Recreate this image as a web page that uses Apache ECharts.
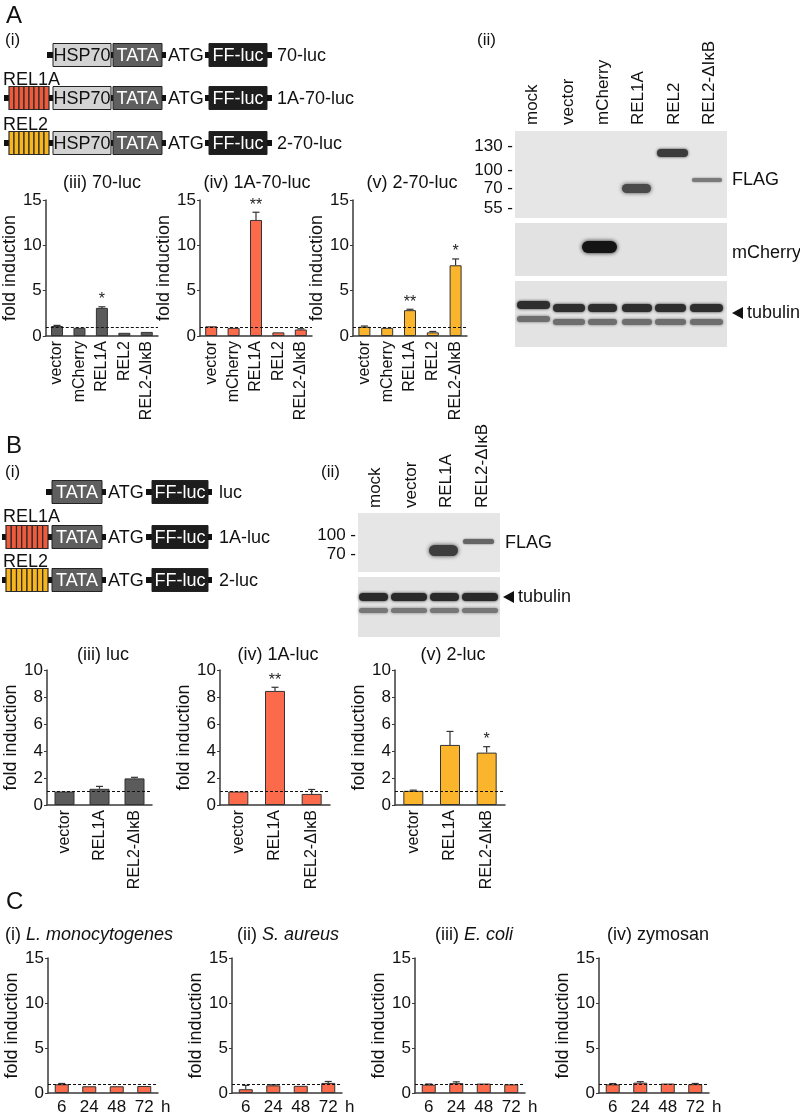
<!DOCTYPE html>
<html><head><meta charset="utf-8">
<script src="https://cdn.jsdelivr.net/npm/echarts@6/dist/echarts.min.js"></script>
<style>html,body{margin:0;padding:0;background:#fff}#c{width:800px;height:1117px}</style>
</head><body><div id="c"></div>
<script>
const FONT = '"Liberation Sans", Arial, Helvetica, sans-serif';

// ---------- DATA ----------
// Panel A (iii)-(v)
const aCategories = ['vector', 'mCherry', 'REL1A', 'REL2', 'REL2-ΔIκB'];
const a3Values = [1.1, 0.9, 3.1, 0.35, 0.45];
const a3ErrTop = [1.17, 0.95, 3.22, 0.4, 0.5];
const a3Sig = ['', '', '*', '', ''];
const a4Values = [1.07, 0.9, 12.8, 0.4, 0.72];
const a4ErrTop = [1.13, 0.95, 13.65, 0.45, 0.8];
const a4Sig = ['', '', '**', '', ''];
const a5Values = [1.02, 0.9, 2.85, 0.4, 7.8];
const a5ErrTop = [1.1, 0.95, 2.95, 0.5, 8.5];
const a5Sig = ['', '', '**', '', '*'];
const aTicks = [0, 5, 10, 15];

// Panel B (iii)-(v)
const bCategories = ['vector', 'REL1A', 'REL2-ΔIκB'];
const b3Values = [1.0, 1.2, 1.97];
const b3ErrTop = [1.02, 1.38, 2.05];
const b3Sig = ['', '', ''];
const b4Values = [1.0, 8.45, 0.82];
const b4ErrTop = [1.02, 8.72, 1.15];
const b4Sig = ['', '**', ''];
const b5Values = [1.05, 4.45, 3.88];
const b5ErrTop = [1.1, 5.45, 4.32];
const b5Sig = ['', '', '*'];
const bTicks = [0, 2, 4, 6, 8, 10];

// Panel C (i)-(iv)
const cCategories = ['6', '24', '48', '72'];
const c1Values = [0.97, 0.75, 0.75, 0.78];
const c1ErrTop = [1.06, 0.8, 0.8, 0.84];
const c2Values = [0.42, 0.85, 0.8, 1.12];
const c2ErrTop = [0.85, 0.92, 0.86, 1.28];
const c3Values = [0.93, 1.1, 1.05, 0.96];
const c3ErrTop = [1.0, 1.24, 1.1, 1.02];
const c4Values = [0.96, 1.15, 1.05, 0.98];
const c4ErrTop = [1.05, 1.26, 1.1, 1.06];
const cSig = ['', '', '', ''];

// Blot lane labels / markers
const blotALanes = ['mock', 'vector', 'mCherry', 'REL1A', 'REL2', 'REL2-ΔIκB'];
const blotAMarkers = ['130', '100', '70', '55'];
const blotBLanes = ['mock', 'vector', 'REL1A', 'REL2-ΔIκB'];
const blotBMarkers = ['100', '70'];

// ---------- STYLE ----------
const GRAY = '#5b5b5b', RED = '#fb6a4a', YEL = '#fbb52c';
const DIAG_RED = '#ee5a3c', DIAG_YEL = '#f7b51e';

const charts = [
  // A
  {left: 43, top: 200, width: 115, height: 136, cats: aCategories, vals: a3Values, err: a3ErrTop, sig: a3Sig, color: GRAY, max: 15, interval: 5, barWidth: 12, rot: 90, nameGap: 12, title: '(iii) 70-luc', tx: 102, ty: 183},
  {left: 200, top: 200, width: 112, height: 136, cats: aCategories, vals: a4Values, err: a4ErrTop, sig: a4Sig, color: RED, max: 15, interval: 5, barWidth: 12, rot: 90, nameGap: 12, title: '(iv) 1A-70-luc', tx: 257, ty: 183},
  {left: 353, top: 200, width: 114, height: 136, cats: aCategories, vals: a5Values, err: a5ErrTop, sig: a5Sig, color: YEL, max: 15, interval: 5, barWidth: 12, rot: 90, nameGap: 12, title: '(v) 2-70-luc', tx: 412, ty: 183},
  // B
  {left: 47, top: 670, width: 105, height: 135, cats: bCategories, vals: b3Values, err: b3ErrTop, sig: b3Sig, color: GRAY, max: 10, interval: 2, barWidth: 20, rot: 90, nameGap: 20, title: '(iii) luc', tx: 103, ty: 655},
  {left: 220, top: 670, width: 110, height: 135, cats: bCategories, vals: b4Values, err: b4ErrTop, sig: b4Sig, color: RED, max: 10, interval: 2, barWidth: 20, rot: 90, nameGap: 20, title: '(iv) 1A-luc', tx: 278, ty: 655},
  {left: 395, top: 670, width: 110, height: 135, cats: bCategories, vals: b5Values, err: b5ErrTop, sig: b5Sig, color: YEL, max: 10, interval: 2, barWidth: 20, rot: 90, nameGap: 20, title: '(v) 2-luc', tx: 453, ty: 655},
  // C
  {left: 48, top: 958, width: 110, height: 135, cats: cCategories, vals: c1Values, err: c1ErrTop, sig: cSig, color: RED, max: 15, interval: 5, barWidth: 14, rot: 0, nameGap: 22, unit: 'h', rich: ['(i) ', 'L. monocytogenes'], tx: 89, ty: 935},
  {left: 232, top: 958, width: 110, height: 135, cats: cCategories, vals: c2Values, err: c2ErrTop, sig: cSig, color: RED, max: 15, interval: 5, barWidth: 14, rot: 0, nameGap: 22, unit: 'h', rich: ['(ii) ', 'S. aureus'], tx: 288, ty: 935},
  {left: 415, top: 958, width: 110, height: 135, cats: cCategories, vals: c3Values, err: c3ErrTop, sig: cSig, color: RED, max: 15, interval: 5, barWidth: 14, rot: 0, nameGap: 22, unit: 'h', rich: ['(iii) ', 'E. coli'], tx: 474, ty: 935},
  {left: 599, top: 958, width: 110, height: 135, cats: cCategories, vals: c4Values, err: c4ErrTop, sig: cSig, color: RED, max: 15, interval: 5, barWidth: 14, rot: 0, nameGap: 22, unit: 'h', rich: ['(iv) zymosan', ''], tx: 658, ty: 935}
];

const grid = [], xAxis = [], yAxis = [], series = [], graphic = [];

charts.forEach((c, i) => {
  grid.push({left: c.left, top: c.top, width: c.width, height: c.height, containLabel: false});
  xAxis.push({
    type: 'category', gridIndex: i, data: c.cats,
    axisLine: {lineStyle: {color: '#3a3a3a', width: 1.5}},
    axisTick: {show: false},
    axisLabel: {interval: 0, rotate: c.rot, fontSize: c.rot ? 16 : 17, fontFamily: FONT, color: '#111', margin: c.rot ? 5 : 6},
    name: c.unit || '', nameLocation: 'end', nameGap: 3,
    nameTextStyle: {fontSize: 17, fontFamily: FONT, color: '#111', verticalAlign: 'top', padding: [6, 0, 0, 0]}
  });
  yAxis.push({
    type: 'value', gridIndex: i, min: 0, max: c.max, interval: c.interval,
    splitLine: {show: false},
    axisLine: {show: true, lineStyle: {color: '#3a3a3a', width: 1.5}},
    axisTick: {show: true, length: 3, lineStyle: {color: '#3a3a3a', width: 1}},
    axisLabel: {fontSize: 17, fontFamily: FONT, color: '#111', margin: 4},
    name: 'fold induction', nameLocation: 'middle', nameGap: c.nameGap,
    nameTextStyle: {fontSize: 18, fontFamily: FONT, color: '#111'}
  });
  series.push({
    type: 'bar', xAxisIndex: i, yAxisIndex: i, data: c.vals, barWidth: c.barWidth,
    itemStyle: {color: c.color, borderColor: '#333', borderWidth: 1},
    silent: true,
    markLine: {
      silent: true, symbol: 'none', label: {show: false},
      lineStyle: {type: [3, 2], color: '#111', width: 1},
      data: [{yAxis: 1}]
    },
    z: 2
  });
  const sig = c.sig;
  series.push({
    type: 'custom', xAxisIndex: i, yAxisIndex: i,
    data: c.vals.map((v, k) => [k, v, c.err[k]]),
    encode: {x: 0, y: 2},
    silent: true, z: 4,
    renderItem: function (params, api) {
      const k = api.value(0);
      const base = api.coord([k, api.value(1)]);
      const top = api.coord([k, api.value(2)]);
      const ch = [];
      if (base[1] - top[1] > 0.6) {
        ch.push({type: 'line', shape: {x1: base[0], y1: base[1], x2: top[0], y2: top[1]}, style: {stroke: '#333', lineWidth: 1.2}});
        ch.push({type: 'line', shape: {x1: top[0] - 3.5, y1: top[1], x2: top[0] + 3.5, y2: top[1]}, style: {stroke: '#333', lineWidth: 1.2}});
      }
      const s = sig[params.dataIndex];
      if (s) {
        ch.push({type: 'text', x: top[0], y: top[1] - 15, style: {text: s, font: '16px ' + FONT, fill: '#222', align: 'center', verticalAlign: 'top', textAlign: 'center', textVerticalAlign: 'top'}});
      }
      return {type: 'group', children: ch};
    }
  });
  // titles
  if (c.title) {
    graphic.push(txt(c.tx, c.ty, c.title, {align: 'center', size: 18}));
  } else {
    const t = c.rich[1] ? '{n|' + c.rich[0] + '}{i|' + c.rich[1] + '}' : '{n|' + c.rich[0] + '}';
    graphic.push({type: 'text', x: c.tx, y: c.ty, z: 10, style: {
      text: t, align: 'center', verticalAlign: 'middle', textAlign: 'center', textVerticalAlign: 'middle',
      rich: {n: {fontSize: 18, fontFamily: FONT, fill: '#111', color: '#111'}, i: {fontSize: 18, fontFamily: FONT, fontStyle: 'italic', fill: '#111', color: '#111'}}
    }});
  }
});

// ---------- GRAPHIC HELPERS ----------
function txt(x, y, text, o) {
  o = o || {};
  const al = o.align || 'left', va = o.valign || 'middle';
  return {type: 'text', x: x, y: y, rotation: o.rot || 0, z: 10, style: {
    text: text, font: (o.bold ? 'bold ' : '') + (o.size || 18) + 'px ' + FONT, fill: o.color || '#111',
    align: al, verticalAlign: va, textAlign: al, textVerticalAlign: va}};
}
function rect(x, y, w, h, fill, stroke, lw, extra) {
  const st = {fill: fill};
  if (stroke) { st.stroke = stroke; st.lineWidth = lw || 1; }
  if (extra) Object.assign(st, extra);
  return {type: 'rect', shape: {x: x, y: y, width: w, height: h}, style: st, z: 5};
}
function band(x, y, w, h, color, blur) {
  return {type: 'rect', shape: {x: x, y: y, width: w, height: h, r: h / 2}, style: {fill: color, shadowBlur: blur || 3, shadowColor: color}, z: 6};
}
// construct row: list of parts
function construct(yc, parts) {
  const out = [];
  parts.forEach(p => {
    const k = p[0];
    if (k === 'c') out.push(rect(p[1], yc - 3, p[2] - p[1], 6, '#111'));
    else if (k === 'box') {
      out.push(rect(p[1], yc - 11.5, p[2] - p[1], 23, p[4], '#222', 1));
      out.push(txt((p[1] + p[2]) / 2, yc + 1, p[3], {align: 'center', size: 18, color: p[5]}));
    } else if (k === 't') out.push(txt(p[1], yc + 1, p[2], {size: 18}));
    else if (k === 'stripes') {
      const n = 8, w = (p[2] - p[1]) / n;
      for (let s = 0; s < n; s++) out.push(rect(p[1] + s * w, yc - 11.5, w, 23, p[3], '#2a2a2a', 1.2));
    }
  });
  return out;
}

// ---------- PANEL LETTERS & LABELS ----------
graphic.push(txt(6, 16, 'A', {size: 24}));
graphic.push(txt(5, 40, '(i)', {size: 17}));
graphic.push(txt(6, 446, 'B', {size: 24}));
graphic.push(txt(5, 472, '(i)', {size: 17}));
graphic.push(txt(6, 902, 'C', {size: 24}));
graphic.push(txt(477, 40, '(ii)', {size: 17}));
graphic.push(txt(321, 472, '(ii)', {size: 17}));

// ---------- A(i) constructs ----------
const hsp = [['box', 53, 111, 'HSP70', '#d3d3d3', '#111'], ['c', 111, 113], ['box', 113, 162, 'TATA', '#5f5f5f', '#fff'], ['c', 162, 166], ['t', 168, 'ATG'], ['c', 205, 210], ['box', 209, 267, 'FF-luc', '#1d1d1d', '#fff'], ['c', 267, 272]];
graphic.push(...construct(55, [['c', 47, 53]].concat(hsp, [['t', 277, '70-luc']])));
graphic.push(txt(3, 80, 'REL1A', {size: 18}));
graphic.push(...construct(98, [['c', 4, 9], ['stripes', 9, 49, DIAG_RED], ['c', 49, 53]].concat(hsp, [['t', 277, '1A-70-luc']])));
graphic.push(txt(3, 125, 'REL2', {size: 18}));
graphic.push(...construct(143, [['c', 4, 9], ['stripes', 9, 49, DIAG_YEL], ['c', 49, 53]].concat(hsp, [['t', 277, '2-70-luc']])));

// ---------- B(i) constructs ----------
const tata = [['box', 52, 102, 'TATA', '#5f5f5f', '#fff'], ['c', 102, 106], ['t', 108, 'ATG'], ['c', 146, 152], ['box', 152, 208, 'FF-luc', '#1d1d1d', '#fff'], ['c', 208, 212]];
graphic.push(...construct(492, [['c', 46, 52]].concat(tata, [['t', 219, 'luc']])));
graphic.push(txt(3, 517, 'REL1A', {size: 18}));
graphic.push(...construct(537, [['c', 2, 6], ['stripes', 6, 48, DIAG_RED], ['c', 48, 52]].concat(tata, [['t', 219, '1A-luc']])));
graphic.push(txt(3, 562, 'REL2', {size: 18}));
graphic.push(...construct(580, [['c', 2, 6], ['stripes', 6, 48, DIAG_YEL], ['c', 48, 52]].concat(tata, [['t', 219, '2-luc']])));

// ---------- A(ii) blot ----------
(function () {
  const x0 = 515, x1 = 727, lw = (x1 - x0) / blotALanes.length;
  blotALanes.forEach((l, k) => graphic.push(txt(x0 + lw * (k + 0.5), 125, l, {rot: Math.PI / 2, align: 'left', size: 17})));
  graphic.push(rect(x0, 131, x1 - x0, 87, '#e6e6e6'));
  graphic.push(rect(x0, 223, x1 - x0, 53, '#e2e2e2'));
  graphic.push(rect(x0, 281, x1 - x0, 66, '#e3e3e3'));
  const my = [146, 170, 188, 208];
  blotAMarkers.forEach((m, k) => graphic.push(txt(513, my[k], m + ' -', {align: 'right', size: 17})));
  // FLAG bands
  graphic.push(band(622, 184, 29, 9, '#4a4a4a', 4));
  graphic.push(band(657, 149, 31, 8, '#3a3a3a', 3));
  graphic.push(band(692, 178, 30, 4, '#7a7a7a', 2));
  // mCherry band
  graphic.push(band(582, 241, 35, 12, '#141414', 4));
  // tubulin bands
  const lanesX = [[517, 550], [553, 585], [588, 617], [622, 652], [655, 686], [690, 723]];
  lanesX.forEach((lx, k) => {
    const dy = k === 0 ? -3 : 0;
    graphic.push(band(lx[0], 304 + dy, lx[1] - lx[0], 8, '#2e2e2e', 3));
    graphic.push(band(lx[0], 319 + dy, lx[1] - lx[0], 6, '#6e6e6e', 3));
  });
  graphic.push(txt(732, 180, 'FLAG', {size: 18}));
  graphic.push(txt(732, 253, 'mCherry', {size: 18}));
  graphic.push({type: 'polygon', shape: {points: [[732, 313], [743, 307], [743, 319]]}, style: {fill: '#111'}, z: 10});
  graphic.push(txt(747, 313, 'tubulin', {size: 18}));
})();

// ---------- B(ii) blot ----------
(function () {
  const x0 = 358, x1 = 500, lw = (x1 - x0) / blotBLanes.length;
  blotBLanes.forEach((l, k) => graphic.push(txt(x0 + lw * (k + 0.5), 508, l, {rot: Math.PI / 2, align: 'left', size: 17})));
  graphic.push(rect(x0, 513, x1 - x0, 59, '#e6e6e6'));
  graphic.push(rect(x0, 577, x1 - x0, 60, '#e3e3e3'));
  const my = [535, 554];
  blotBMarkers.forEach((m, k) => graphic.push(txt(356, my[k], m + ' -', {align: 'right', size: 17})));
  graphic.push(band(429, 545, 29, 11, '#3e3e3e', 4));
  graphic.push(band(463, 539, 31, 5, '#666', 2));
  const lanesX = [[359, 388], [391, 427], [430, 459], [462, 498]];
  lanesX.forEach(lx => {
    graphic.push(band(lx[0], 593, lx[1] - lx[0], 8, '#2a2a2a', 3));
    graphic.push(band(lx[0], 608, lx[1] - lx[0], 5, '#777', 3));
  });
  graphic.push(txt(505, 543, 'FLAG', {size: 18}));
  graphic.push({type: 'polygon', shape: {points: [[503, 597], [514, 591], [514, 603]]}, style: {fill: '#111'}, z: 10});
  graphic.push(txt(518, 597, 'tubulin', {size: 18}));
})();

const chart = echarts.init(document.getElementById('c'), null, {renderer: 'canvas'});
chart.setOption({
  animation: false,
  backgroundColor: '#fff',
  textStyle: {fontFamily: FONT},
  grid: grid, xAxis: xAxis, yAxis: yAxis, series: series,
  graphic: {elements: graphic}
});
</script>
</body></html>
